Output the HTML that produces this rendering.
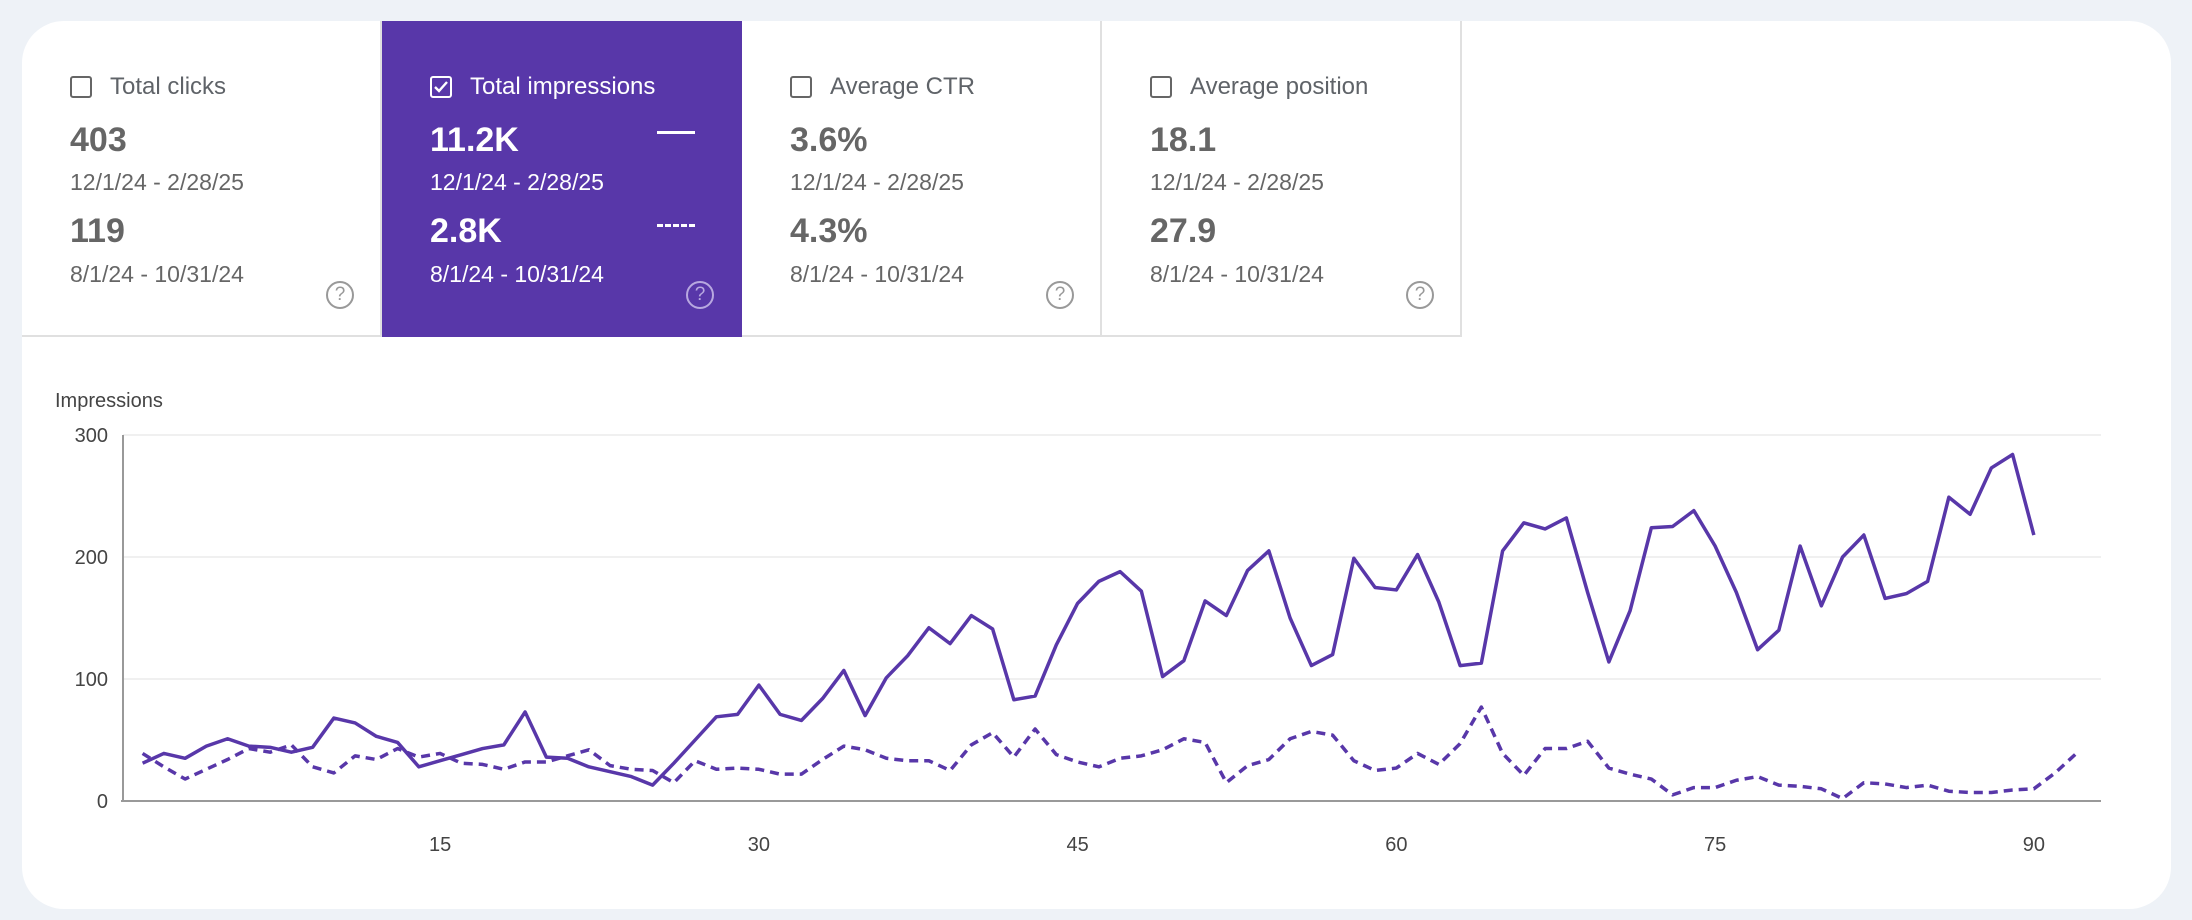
<!DOCTYPE html>
<html><head><meta charset="utf-8"><style>
body{margin:0;width:2192px;height:920px;background:#eef2f7;font-family:"Liberation Sans",sans-serif;overflow:hidden;position:relative}
.card{position:absolute;left:22px;top:21px;width:2149px;height:888px;background:#fff;border-radius:42px;overflow:hidden}
.tab{position:absolute;top:0;width:360px;height:316px;box-sizing:border-box;border-right:2px solid #e0e0e0;border-bottom:2px solid #e0e0e0;color:#5f6368}
.tab.sel{background:#5837a9;color:#fff;border-color:#5837a9}
.cb{position:absolute;left:48px;top:55px;width:22px;height:22px;border:2.5px solid #666;border-radius:3px;box-sizing:border-box}
.sel .cb{border-color:#fff}
.lbl{position:absolute;left:88px;top:52px;font-size:24px;color:#5f6368}
.sel .lbl{color:#fff}
.v{position:absolute;left:48px;font-size:34px;font-weight:bold;color:#666}
.sel .v{color:#fff}
.d{position:absolute;left:48px;font-size:23px;color:#666}
.sel .d{color:#fff}
.help{position:absolute;left:304px;top:260px;width:28px;height:28px;border:2.5px solid #999;border-radius:50%;box-sizing:border-box;font-size:19px;text-align:center;line-height:24px;color:#999}
.sel .help{border-color:#b8a8e0;color:#b8a8e0}
</style></head><body>
<div class="card">
 <div class="tab" style="left:0">
  <div class="cb"></div><div class="lbl">Total clicks</div>
  <div class="v" style="top:100px">403</div><div class="d" style="top:148px">12/1/24 - 2/28/25</div>
  <div class="v" style="top:191px">119</div><div class="d" style="top:240px">8/1/24 - 10/31/24</div>
  <div class="help">?</div></div>
 <div class="tab sel" style="left:360px">
  <div class="cb"><svg width="18" height="18" style="position:absolute;left:0;top:0"><path d="M3 9l4 4 8-9" stroke="#fff" stroke-width="2.4" fill="none"/></svg></div><div class="lbl">Total impressions</div>
  <div class="v" style="top:100px">11.2K</div><div class="d" style="top:148px">12/1/24 - 2/28/25</div>
  <div class="v" style="top:191px">2.8K</div><div class="d" style="top:240px">8/1/24 - 10/31/24</div>
  <div style="position:absolute;left:275px;top:110px;width:38px;height:3px;background:#fff"></div>
  <div style="position:absolute;left:275px;top:203px;width:38px;border-top:3px dashed #fff"></div>
  <div class="help">?</div></div>
 <div class="tab" style="left:720px">
  <div class="cb"></div><div class="lbl">Average CTR</div>
  <div class="v" style="top:100px">3.6%</div><div class="d" style="top:148px">12/1/24 - 2/28/25</div>
  <div class="v" style="top:191px">4.3%</div><div class="d" style="top:240px">8/1/24 - 10/31/24</div>
  <div class="help">?</div></div>
 <div class="tab" style="left:1080px">
  <div class="cb"></div><div class="lbl">Average position</div>
  <div class="v" style="top:100px">18.1</div><div class="d" style="top:148px">12/1/24 - 2/28/25</div>
  <div class="v" style="top:191px">27.9</div><div class="d" style="top:240px">8/1/24 - 10/31/24</div>
  <div class="help">?</div></div>
</div>
<svg id="chart" width="2192" height="920" style="position:absolute;left:0;top:0"></svg>
<script>
const currentValues=[31,39,35,45,51,45,44,40,44,68,64,53,48,28,33,38,43,46,73,36,35,28,24,20,13,31,50,69,71,95,71,66,84,107,70,101,119,142,129,152,141,83,86,128,162,180,188,172,102,115,164,152,189,205,150,111,120,199,175,173,202,163,111,113,205,228,223,232,171,114,156,224,225,238,209,171,124,140,209,160,200,218,166,170,180,249,235,273,284,218];
const previousValues=[39,28,18,26,34,43,40,46,28,23,37,34,43,36,39,31,30,26,32,32,37,42,29,26,25,15,33,26,27,26,22,22,34,45,42,35,33,33,25,46,56,36,59,38,32,28,35,37,42,51,48,15,29,34,51,57,54,33,25,27,39,30,47,77,39,21,43,43,49,27,22,18,5,11,11,17,20,13,12,10,2,15,14,11,13,8,7,7,9,10,23,39];
const yTicks=[0,100,200,300];
const xTicks=[15,30,45,60,75,90];
const svg=document.getElementById('chart');const NS='http://www.w3.org/2000/svg';
const X0=123,X1=2101,Y0=801,YT=435;
const xs=i=>142.6+(i-1)*21.25;
const ys=v=>Y0-(v/300)*(Y0-YT);
function mk(t,a){const e=document.createElementNS(NS,t);for(const k in a)e.setAttribute(k,a[k]);svg.appendChild(e);return e;}
const t0=mk('text',{x:55,y:407,'font-size':20,fill:'#444','font-family':'Liberation Sans, sans-serif'});t0.textContent='Impressions';


yTicks.forEach(v=>{
 if(v>0){const g=mk('line',{x1:X0,x2:X1,y1:ys(v),y2:ys(v),stroke:'#ebebeb','stroke-width':1.5});
 
 }
 const t=mk('text',{x:108,y:ys(v)+7,'text-anchor':'end','font-size':20,fill:'#444','font-family':'Liberation Sans, sans-serif'});t.textContent=v;
 
 
});
xTicks.forEach(v=>{const t=mk('text',{x:xs(v),y:851,'text-anchor':'middle','font-size':20,fill:'#444','font-family':'Liberation Sans, sans-serif'});t.textContent=v;
 
 });
const ya=mk('line',{x1:X0,x2:X0,y1:YT,y2:Y0,stroke:'#999','stroke-width':2});


const xa=mk('line',{x1:X0-2,x2:X1,y1:Y0,y2:Y0,stroke:'#999','stroke-width':2});


const pp=mk('polyline',{points:previousValues.map((v,i)=>xs(i+1)+','+ys(v)).join(' '),fill:'none',stroke:'#5837a9','stroke-width':3.5,'stroke-dasharray':'9 6','stroke-linejoin':'round'});


const cp=mk('polyline',{points:currentValues.map((v,i)=>xs(i+1)+','+ys(v)).join(' '),fill:'none',stroke:'#5837a9','stroke-width':3.5,'stroke-linejoin':'round'});


</script>
</body></html>
